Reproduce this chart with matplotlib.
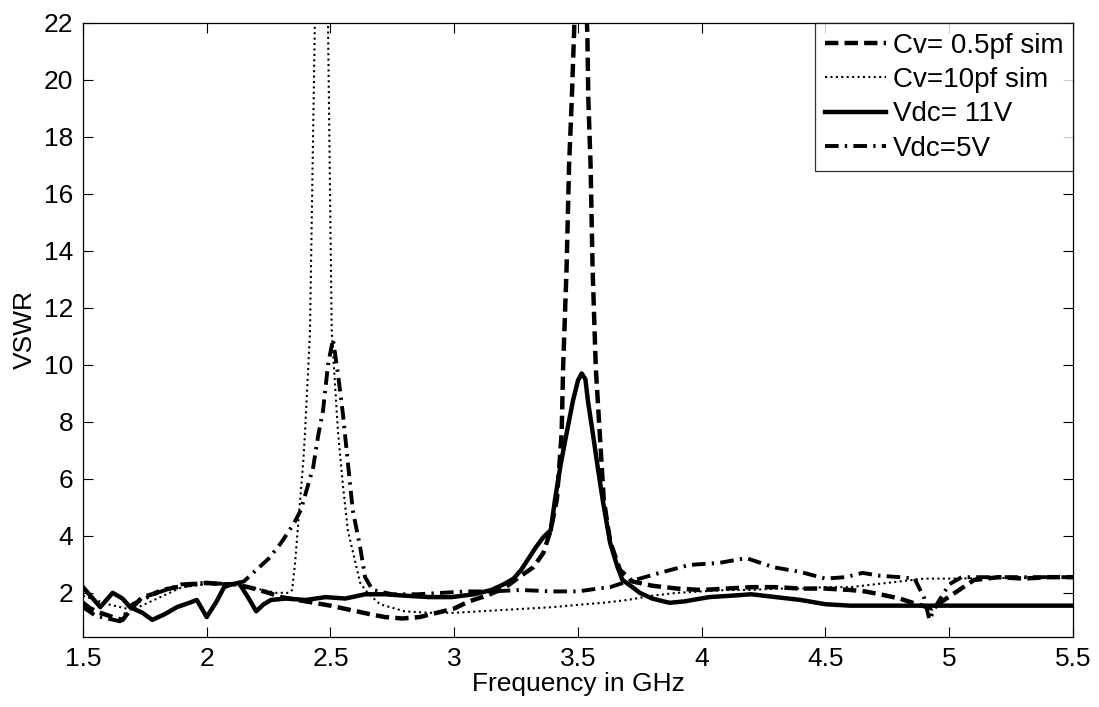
import numpy as np
import matplotlib
matplotlib.use('Agg')
import matplotlib.pyplot as plt

plt.rcParams['font.family'] = ['Liberation Sans', 'DejaVu Sans']

# Cv = 0.5pf simulation (dashed)
f_cv05 = [1.50, 1.53, 1.57, 1.62, 1.66, 1.70, 1.74, 1.78, 1.82, 1.88, 1.94, 2.00, 2.06, 2.12,
          2.19, 2.25, 2.30, 2.40, 2.50, 2.58, 2.66, 2.72, 2.79, 2.86, 2.93, 3.00, 3.06, 3.13,
          3.20, 3.27, 3.32, 3.36, 3.39, 3.415, 3.434, 3.44, 3.454, 3.464, 3.475, 3.484, 3.51,
          3.538, 3.542, 3.551, 3.559, 3.572, 3.588, 3.604, 3.63, 3.67, 3.72, 3.80, 3.90, 4.00,
          4.10, 4.20, 4.30, 4.40, 4.50, 4.60, 4.66, 4.72, 4.80, 4.87, 4.93, 4.98, 5.04, 5.10,
          5.20, 5.30, 5.40, 5.50]
v_cv05 = [1.65, 1.45, 1.3, 1.15, 1.05, 1.5, 1.85, 1.95, 2.1, 2.2, 2.3, 2.35, 2.3, 2.3,
          2.15, 2.0, 1.85, 1.7, 1.55, 1.4, 1.25, 1.15, 1.1, 1.15, 1.3, 1.45, 1.7, 1.9,
          2.15, 2.6, 2.9, 3.4, 4.2, 5.3, 7.6, 9.9, 13.4, 17.0, 19.3, 21.6, 28.0,
          21.6, 19.3, 17.0, 13.4, 9.9, 7.6, 5.3, 3.8, 2.8, 2.4, 2.25, 2.15, 2.1,
          2.15, 2.2, 2.2, 2.15, 2.15, 2.1, 2.05, 1.95, 1.8, 1.6, 1.45, 1.75, 2.1, 2.45,
          2.55, 2.5, 2.55, 2.55]

# Cv = 10pf simulation (dotted)
f_cv10 = [1.50, 1.60, 1.70, 1.80, 1.90, 2.00, 2.10, 2.20, 2.28, 2.33, 2.345, 2.357, 2.375,
          2.39, 2.397, 2.417, 2.437, 2.46, 2.49, 2.505, 2.53, 2.55, 2.57, 2.62, 2.65, 2.70,
          2.80, 2.90, 3.00, 3.10, 3.20, 3.30, 3.40, 3.50, 3.60, 3.70, 3.80, 3.90, 4.00, 4.10,
          4.20, 4.30, 4.40, 4.50, 4.60, 4.70, 4.80, 4.90, 5.00, 5.50]
v_cv10 = [1.9, 1.6, 1.4, 1.8, 2.2, 2.3, 2.3, 2.15, 2.0, 2.0, 2.1, 3.05, 5.0,
          6.6, 7.6, 11.1, 22.0, 32.0, 22.0, 11.2, 7.7, 5.8, 4.2, 2.35, 2.0, 1.6,
          1.35, 1.3, 1.3, 1.35, 1.4, 1.45, 1.5, 1.58, 1.65, 1.75, 1.9, 2.0, 2.05, 2.1,
          2.1, 2.15, 2.15, 2.2, 2.2, 2.3, 2.4, 2.5, 2.5, 2.55]

# Vdc = 11V measured (solid)
f_v11 = [1.50, 1.52, 1.57, 1.62, 1.66, 1.69, 1.74, 1.78, 1.83, 1.88, 1.93, 1.96, 2.00, 2.04,
         2.07, 2.10, 2.13, 2.17, 2.20, 2.23, 2.26, 2.32, 2.40, 2.48, 2.56, 2.64, 2.72, 2.80,
         2.90, 2.99, 3.08, 3.15, 3.20, 3.24, 3.27, 3.30, 3.33, 3.36, 3.39, 3.407, 3.43, 3.454,
         3.48, 3.50, 3.515, 3.53, 3.54, 3.56, 3.58, 3.60, 3.63, 3.66, 3.68, 3.72, 3.75, 3.80,
         3.87, 3.93, 4.03, 4.12, 4.20, 4.30, 4.40, 4.50, 4.60, 4.70, 4.80, 4.90, 5.00, 5.20,
         5.50]
v_v11 = [2.2, 2.0, 1.5, 2.0, 1.8, 1.5, 1.3, 1.05, 1.25, 1.5, 1.65, 1.75, 1.15, 1.7,
         2.2, 2.3, 2.35, 1.8, 1.35, 1.6, 1.75, 1.8, 1.75, 1.85, 1.8, 1.95, 1.95, 1.9,
         1.85, 1.85, 1.95, 2.1, 2.3, 2.5, 2.8, 3.2, 3.6, 3.95, 4.2, 5.26, 6.5, 7.6,
         8.75, 9.45, 9.7, 9.5, 8.75, 7.6, 6.4, 5.26, 3.75, 2.9, 2.45, 2.2, 2.0, 1.8,
         1.65, 1.7, 1.85, 1.9, 1.95, 1.85, 1.75, 1.6, 1.55, 1.55, 1.55, 1.55, 1.55, 1.55,
         1.55]

# Vdc = 5V measured (dash-dot)
f_v5 = [1.50, 1.55, 1.60, 1.65, 1.70, 1.75, 1.80, 1.90, 2.00, 2.10, 2.15, 2.20, 2.25, 2.30,
        2.35, 2.38, 2.43, 2.45, 2.47, 2.49, 2.51, 2.53, 2.55, 2.57, 2.59, 2.62, 2.64, 2.67,
        2.75, 2.85, 2.95, 3.05, 3.15, 3.27, 3.40, 3.50, 3.58, 3.63, 3.70, 3.75, 3.83, 3.95,
        4.07, 4.18, 4.29, 4.40, 4.50, 4.58, 4.65, 4.72, 4.80, 4.86, 4.90, 4.92, 4.95, 5.00,
        5.05, 5.20, 5.35, 5.50]
v_v5 = [1.5, 1.2, 1.1, 1.0, 1.6, 1.8, 2.0, 2.3, 2.35, 2.3, 2.4, 2.8, 3.2, 3.75,
        4.4, 4.9, 6.4, 7.5, 8.4, 10.0, 10.9, 9.7, 8.3, 6.6, 4.9, 3.6, 2.55, 2.1,
        1.95, 1.95, 2.0, 2.05, 2.05, 2.1, 2.05, 2.05, 2.15, 2.2, 2.4, 2.5, 2.7, 2.98,
        3.05, 3.22, 2.9, 2.73, 2.5, 2.55, 2.7, 2.6, 2.55, 2.5, 1.8, 1.05, 1.6, 2.3,
        2.55, 2.55, 2.55, 2.55]

labels = ['Cv= 0.5pf sim', 'Cv=10pf sim', 'Vdc= 11V', 'Vdc=5V']

fig = plt.figure(figsize=(10.99, 7.07), dpi=100)
ax = fig.add_axes([0.0755, 0.099, 0.9008, 0.8685])

ax.plot(f_cv05, v_cv05, color='k', lw=3.2, dashes=(3, 1.4), label=labels[0])
ax.plot(f_cv10, v_cv10, color='k', lw=1.5, dashes=(1, 1.6), label=labels[1])
ax.plot(f_v11, v_v11, color='k', lw=3.2, ls='-', label=labels[2])
ax.plot(f_v5, v_v5, color='k', lw=2.8, dashes=(3.5, 1.6, 0.6, 1.6), label=labels[3])

ax.set_xlim(1.5, 5.5)
ax.set_ylim(0.45, 22)
ax.set_xticks(np.arange(1.5, 5.51, 0.5))
ax.set_xticklabels(['1.5', '2', '2.5', '3', '3.5', '4', '4.5', '5', '5.5'])
ax.set_yticks(np.arange(2, 22.1, 2))
ax.tick_params(direction='in', length=7, width=0.8, top=True, right=True,
               labelsize=19, pad=7)
for s in ax.spines.values():
    s.set_linewidth(0.9)

ax.set_xlabel('Frequency in GHz', fontsize=19, labelpad=1)
ax.set_ylabel('VSWR', fontsize=19, labelpad=5)

leg = ax.legend(loc='upper right', fontsize=20, frameon=True, fancybox=False,
                edgecolor='k', borderaxespad=0, handlelength=2.2, handletextpad=0.25,
                labelspacing=0.3, borderpad=0.35)
leg.get_frame().set_linewidth(0.9)

fig.savefig('out.png', dpi=100)
